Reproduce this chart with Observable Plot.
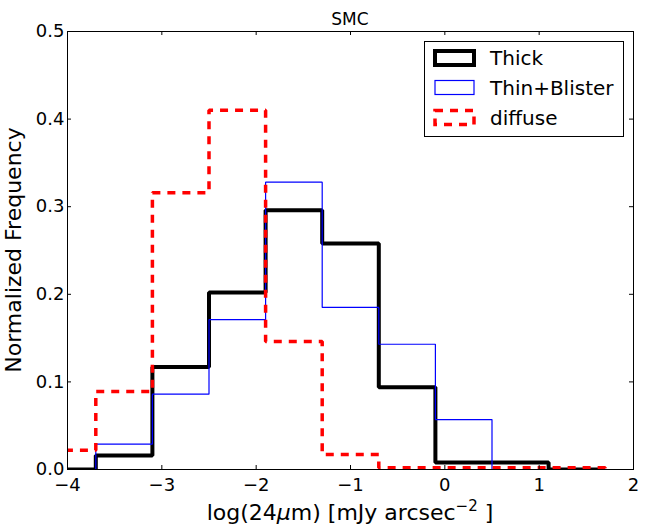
<!DOCTYPE html>
<html><head><meta charset="utf-8">
<script src="https://cdn.jsdelivr.net/npm/d3@7"></script>
<script src="https://cdn.jsdelivr.net/npm/@observablehq/plot@0.6"></script>
<style>body{margin:0;background:#fff} #chart svg{display:block}</style>
</head><body><div id="chart"></div>
<script>
// Histogram bin edges (log 24um) and normalized frequencies per bin
const binEdges = [-4.3, -3.7, -3.1, -2.5, -1.9, -1.3, -0.7, -0.1, 0.5, 1.1, 1.7];
const thick = [0, 0.016, 0.117, 0.202, 0.296, 0.258, 0.094, 0.008, 0.008, 0];
const thinBlister = [0, 0.029, 0.086, 0.171, 0.328, 0.185, 0.143, 0.057, 0, 0];
const diffuse = [0.022, 0.089, 0.316, 0.410, 0.146, 0.017, 0.002, 0.002, 0.002, 0.002];
const xTicks = [-4, -3, -2, -1, 0, 1, 2];
const yTicks = [0, 0.1, 0.2, 0.3, 0.4, 0.5];
const seriesNames = ["Thick", "Thin+Blister", "diffuse"];
const seriesValues = [thick, thinBlister, diffuse];
const seriesStyles = [
  {stroke: "#000000", strokeWidth: 4, dash: null},
  {stroke: "#0000ff", strokeWidth: 1.2, dash: null},
  {stroke: "#ff0000", strokeWidth: 3.5, dash: "8,7"}
];

function stepPoints(values) {
  const pts = [{x: binEdges[0], y: 0}];
  values.forEach((v, i) => pts.push({x: binEdges[i], y: v}));
  pts.push({x: binEdges[binEdges.length - 1], y: 0});
  return pts;
}

const W = 645, H = 527, mL = 67, mR = 12, mT = 31, mB = 58;
const pw = W - mL - mR, ph = H - mT - mB;
const font = "DejaVu Sans, sans-serif";

const lineMarks = seriesValues.map((vals, i) => Plot.line(stepPoints(vals), {
  x: "x", y: "y", curve: "step-after", clip: true,
  stroke: seriesStyles[i].stroke, strokeWidth: seriesStyles[i].strokeWidth,
  strokeDasharray: seriesStyles[i].dash, strokeLinejoin: "miter", strokeLinecap: "butt"
}));

const chart = Plot.plot({
  width: W, height: H,
  marginLeft: mL, marginRight: mR, marginTop: mT, marginBottom: mB,
  style: {fontFamily: font, background: "#fff", color: "#000", overflow: "visible"},
  x: {domain: [-4, 2], ticks: xTicks},
  y: {domain: [0, 0.5], ticks: yTicks},
  marks: [
    ...lineMarks,
    Plot.frame({stroke: "#000", strokeWidth: 1}),
    Plot.tickX(xTicks, {x: d => d, insetTop: ph - 4, stroke: "#000"}),
    Plot.tickX(xTicks, {x: d => d, insetBottom: ph - 4, stroke: "#000"}),
    Plot.tickY(yTicks, {y: d => d, insetRight: pw - 4, stroke: "#000"}),
    Plot.tickY(yTicks, {y: d => d, insetLeft: pw - 4, stroke: "#000"}),
    Plot.axisX({ticks: xTicks, tickSize: 0, tickPadding: 9, fontSize: 18, label: null, tickFormat: d3.format("d")}),
    Plot.axisY({ticks: yTicks, tickSize: 0, tickPadding: 3, fontSize: 18, label: null, tickFormat: d3.format(".1f")})
  ]
});

const svg = d3.select(chart);
// Title
svg.append("text").attr("x", mL + pw / 2).attr("y", 25).attr("text-anchor", "middle")
  .attr("font-family", font).attr("font-size", 17).attr("fill", "#000").text("SMC");
// Y label
svg.append("text").attr("transform", `translate(21,${mT + ph / 2}) rotate(-90)`)
  .attr("text-anchor", "middle").attr("font-family", font).attr("font-size", 22).attr("fill", "#000")
  .text("Normalized Frequency");
// X label
const xl = svg.append("text").attr("x", mL + pw / 2).attr("y", 520).attr("text-anchor", "middle")
  .attr("font-family", font).attr("font-size", 22).attr("fill", "#000");
xl.append("tspan").text("log(24");
xl.append("tspan").attr("font-style", "italic").text("μ");
xl.append("tspan").text("m) [mJy arcsec");
xl.append("tspan").attr("font-size", 15).attr("dy", -9).text("−2");
xl.append("tspan").attr("dy", 9).text(" ]");

// Legend
const lg = svg.append("g").attr("text-anchor", "start");
lg.append("rect").attr("x", 424.5).attr("y", 41.5).attr("width", 199).attr("height", 95)
  .attr("fill", "#fff").attr("stroke", "#000").attr("stroke-width", 1);
const rowC = [58, 87.5, 117.5];
seriesNames.forEach((name, i) => {
  const s = seriesStyles[i];
  lg.append("rect").attr("x", 435).attr("y", rowC[i] - 7).attr("width", 39).attr("height", 14)
    .attr("fill", "none").attr("stroke", s.stroke).attr("stroke-width", s.strokeWidth)
    .attr("stroke-dasharray", s.dash);
  lg.append("text").attr("x", 490).attr("y", rowC[i]).attr("dy", "0.36em").attr("text-anchor", "start")
    .attr("font-family", font).attr("font-size", 20).attr("fill", "#000").text(name);
});

document.getElementById("chart").appendChild(chart);
</script>
</body></html>
